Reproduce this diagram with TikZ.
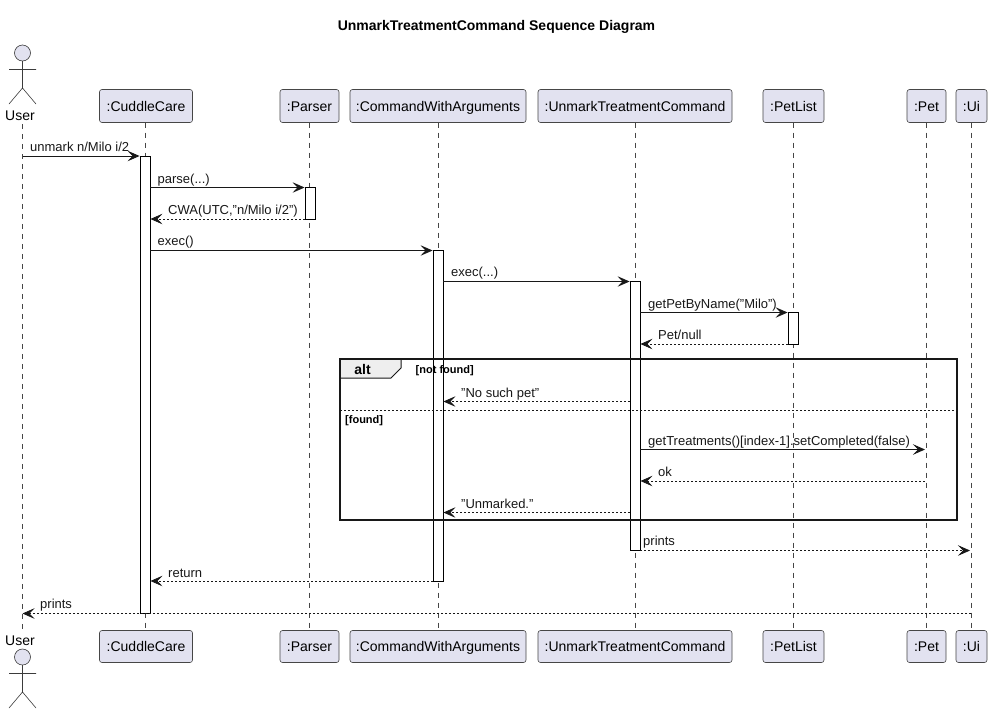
\documentclass[tikz,border=0pt]{standalone}
\usepackage{fontspec}
\setmainfont{Liberation Sans}
\usetikzlibrary{arrows.meta}
\definecolor{ink}{HTML}{181818}
\definecolor{partfill}{HTML}{E2E2F0}
\definecolor{tabfill}{HTML}{EEEEEE}
\tikzset{
  part/.style={draw=ink!80,fill=partfill,line width=0.6pt,rounded corners=2.5pt,minimum height=33pt,inner sep=0pt,font=\fontsize{14}{16}\selectfont,text=black,text height=12pt,text depth=1.5pt},
  life/.style={draw=ink!80,line width=0.5pt,dash pattern=on 5pt off 5pt},
  bar/.style={draw=black,fill=white,line width=0.9pt,inner sep=0pt,minimum width=10pt},
  call/.style={draw=ink,line width=0.9pt,-{Stealth[length=12pt,width=10.5pt,inset=5pt]}},
  reply/.style={call,dash pattern=on 2pt off 2pt,line width=0.7pt},
  msg/.style={anchor=base west,inner sep=0pt,font=\fontsize{13}{15}\selectfont,text=ink},
  guard/.style={anchor=base west,inner sep=0pt,font=\bfseries\fontsize{11}{13}\selectfont,text=black},
  stick/.style={draw=ink!85,line width=0.6pt},
  head/.style={draw=ink!85,fill=partfill,line width=0.6pt}
}
\begin{document}
\begin{tikzpicture}[x=1pt,y=-1pt]
\useasboundingbox (0,0) rectangle (992,713);
\fill[white] (0,0) rectangle (992,713);
\node[anchor=base,inner sep=0pt,font=\bfseries\fontsize{14}{16}\selectfont] (title) at (496.5,30) {UnmarkTreatmentCommand Sequence Diagram};
% actors
\node[anchor=base,inner sep=0pt,font=\fontsize{14}{16}\selectfont] (usert) at (20,120) {User};
\node[anchor=base,inner sep=0pt,font=\fontsize{14}{16}\selectfont] (userb) at (20,645) {User};
\draw[head] (22.5,53) circle (8);
\draw[stick] (22.5,61) -- (22.5,88) (9,69.5) -- (36,69.5) (9,104) -- (22.5,88) -- (36,104);
\draw[head] (22.5,657) circle (8);
\draw[stick] (22.5,665) -- (22.5,692) (9,673.5) -- (36,673.5) (9,708) -- (22.5,692) -- (36,708);
% participants
\foreach \n/\t/\x/\w in {cc/:CuddleCare/146/93,pa/:Parser/309.5/59,cw/:CommandWithArguments/438/176,ut/:UnmarkTreatmentCommand/635/194,pl/:PetList/793.5/61,pe/:Pet/926.5/39,ui/:Ui/971.5/31}{
  \node[part,minimum width=\w pt] (\n t) at (\x,106) {\t};
  \node[part,minimum width=\w pt,minimum height=32pt] (\n b) at (\x,646.5) {\t};
}
% lifelines
\coordinate (ula) at (22.5,124);
\coordinate (ulb) at (22.5,630);
\draw[life] (ula) -- (ulb);
\coordinate (cca) at (145,122.5); \coordinate (ccz) at (145,630.5); \draw[life] (cca) -- (ccz);
\coordinate (paa) at (309.5,122.5); \coordinate (paz) at (309.5,630.5); \draw[life] (paa) -- (paz);
\coordinate (cwa) at (438,122.5); \coordinate (cwz) at (438,630.5); \draw[life] (cwa) -- (cwz);
\coordinate (uta) at (635,122.5); \coordinate (utz) at (635,630.5); \draw[life] (uta) -- (utz);
\coordinate (pla) at (793,122.5); \coordinate (plz) at (793,630.5); \draw[life] (pla) -- (plz);
\coordinate (pea) at (926,122.5); \coordinate (pez) at (926,630.5); \draw[life] (pea) -- (pez);
\coordinate (uia) at (971,122.5); \coordinate (uiz) at (971,630.5); \draw[life] (uia) -- (uiz);
% activations
\node[bar,minimum height=457pt] (acc) at (145,384.5) {};
\node[bar,minimum height=32pt] (apa) at (310,203) {};
\node[bar,minimum height=331pt] (acw) at (438,415.5) {};
\node[bar,minimum height=269pt] (aut) at (635,415.5) {};
\node[bar,minimum height=32pt] (apl) at (793,328) {};
% messages
\coordinate (uu) at (22.5,156);
\draw[call] (uu) -- (uu -| acc.west);
\node[msg] at (30,151) {unmark n/Milo i/2};
\coordinate (m2) at (acc.east |- 0,187.5);
\draw[call] (m2) -- (m2 -| apa.west);
\node[msg] at (157.5,183) {parse(...)};
\coordinate (m3) at (apa.west |- 0,219);
\draw[reply] (m3) -- (m3 -| acc.east);
\node[msg] at (168,214) {CWA(UTC,"n/Milo i/2")};
\coordinate (m4) at (acc.east |- 0,250.5);
\draw[call] (m4) -- (m4 -| acw.west);
\node[msg] at (157.5,245.5) {exec()};
\coordinate (m5) at (acw.east |- 0,281.5);
\draw[call] (m5) -- (m5 -| aut.west);
\node[msg] at (451,276.5) {exec(...)};
\coordinate (m6) at (aut.east |- 0,312.5);
\draw[call] (m6) -- (m6 -| apl.west);
\node[msg] at (648,308) {getPetByName("Milo")};
\coordinate (m7) at (apl.west |- 0,344);
\draw[reply] (m7) -- (m7 -| aut.east);
\node[msg] at (658,339) {Pet/null};
% alt frame
\coordinate (fa) at (340,359); \coordinate (fb) at (957,520);
\coordinate (fd) at (340,410.5); \coordinate (fe) at (957,410.5);
\draw[fill=tabfill,draw=ink,line width=1pt] (340,359) -- (401,359) -- (401,368) -- (391,378) -- (340,378) -- cycle;
\node[anchor=base,inner sep=0pt,font=\bfseries\fontsize{14}{16}\selectfont] (alt) at (362.5,374) {alt};
\draw[draw=ink,line width=1.8pt] (fa) rectangle (fb);
\draw[draw=ink,line width=0.7pt,dash pattern=on 2pt off 2pt] (fd) -- (fe);
\node[guard] at (415.5,373) {[not found]};
\node[guard] at (345,423) {[found]};
\coordinate (m8) at (aut.west |- 0,401.5);
\draw[reply] (m8) -- (m8 -| acw.east);
\node[msg] at (461,397) {"No such pet"};
\coordinate (m9) at (aut.east |- 0,449.5);
\coordinate (m9e) at (925,449.5);
\draw[call] (m9) -- (m9e);
\node[msg] at (648,445) {getTreatments()[index-1].setCompleted(false)};
\coordinate (m10s) at (925,481);
\draw[reply] (m10s) -- (m10s -| aut.east);
\node[msg] at (658,476) {ok};
\coordinate (m11) at (aut.west |- 0,512.5);
\draw[reply] (m11) -- (m11 -| acw.east);
\node[msg] at (461,508) {"Unmarked."};
\coordinate (m12) at (aut.east |- 0,550.5);
\coordinate (m12e) at (970,550.5);
\draw[reply] (m12) -- (m12e);
\node[msg] at (643,545) {prints};
\coordinate (m13) at (acw.west |- 0,581);
\draw[reply] (m13) -- (m13 -| acc.east);
\node[msg] at (168,577) {return};
\coordinate (m14) at (971,613.5);
\coordinate (m14e) at (22.5,613.5);
\draw[reply] (m14) -- (m14e);
\node[msg] at (40,608.5) {prints};
\end{tikzpicture}
\end{document}
